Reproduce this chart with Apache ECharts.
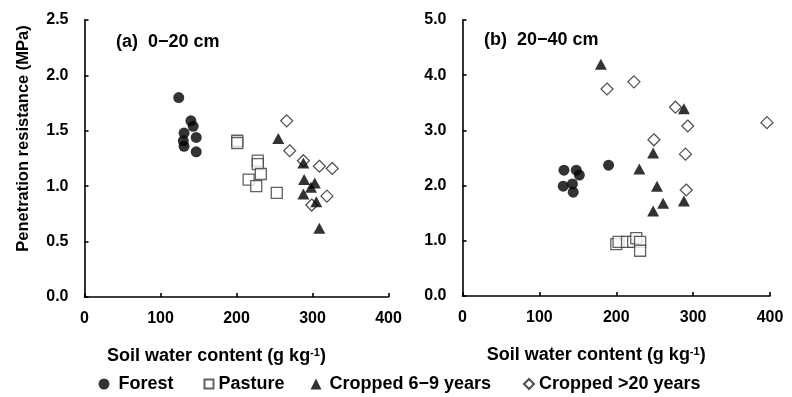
<!DOCTYPE html>
<html><head><meta charset="utf-8">
<script src="https://cdn.jsdelivr.net/npm/echarts@6/dist/echarts.min.js"></script>
<style>html,body{margin:0;padding:0;background:#fff}#c{width:792px;height:397px}</style>
</head><body><div id="c"></div>
<script>
// Panel (a) 0-20 cm : [soil water content g/kg, penetration resistance MPa]
var forestA = [[124,1.80],[140,1.59],[143,1.54],[131,1.48],[147,1.44],[130,1.41],[131,1.36],[147,1.31]];
var pastureA = [[201,1.41],[201,1.39],[228,1.23],[228,1.20],[232,1.11],[216,1.06],[226,1.00],[253,0.94]];
var crop69A = [[255,1.43],[288,1.21],[289,1.06],[303,1.03],[298,0.99],[288,0.93],[305,0.86],[309,0.62]];
var crop20A = [[266,1.59],[270,1.32],[288,1.23],[309,1.18],[326,1.16],[319,0.91],[299,0.83]];
// Panel (b) 20-40 cm
var forestB = [[132,2.28],[148,2.28],[152,2.19],[131,1.99],[143,2.03],[144,1.88],[190,2.37]];
var pastureB = [[200,0.94],[203,0.98],[214,0.98],[222,0.98],[226,1.05],[231,0.98],[231,0.82]];
var crop69B = [[180,4.20],[288,3.39],[248,2.59],[230,2.30],[253,1.99],[261,1.68],[288,1.72],[248,1.54]];
var crop20B = [[223,3.88],[188,3.75],[277,3.42],[293,3.08],[249,2.83],[290,2.57],[291,1.92],[396,3.14]];

var seriesNames = ['Forest','Pasture','Cropped 6\u22129 years','Cropped >20 years'];
var panelTitles = ['(a)  0\u221220 cm','(b)  20\u221240 cm'];
var xTitle = 'Soil water content (g kg{sup|-1})';
var yTitle = 'Penetration resistance (MPa)';

var FONT = '"Liberation Sans", Arial, sans-serif';
var chart = echarts.init(document.getElementById('c'), null, {renderer:'canvas'});

function xAxisCfg(gi){
  return {
    gridIndex: gi, type:'value', min:0, max:400, interval:100,
    axisLine:{show:true, onZero:false, lineStyle:{color:'#000', width:1.6}},
    axisTick:{show:true, inside:true, length:4, lineStyle:{color:'#000', width:1.6}},
    splitLine:{show:false},
    axisLabel:{color:'#000', fontFamily:FONT, fontWeight:'bold', fontSize:16, margin:14},
    name: xTitle, nameLocation:'middle', nameGap:50,
    nameTextStyle:{color:'#000', fontFamily:FONT, fontWeight:'bold', fontSize:18, padding:[0,40,0,0],
      rich:{sup:{fontSize:11, fontWeight:'bold', fontFamily:FONT, color:'#000', verticalAlign:'top', lineHeight:11}}}
  };
}
function yAxisCfg(gi, max, interval, withName){
  var c = {
    gridIndex: gi, type:'value', min:0, max:max, interval:interval,
    axisLine:{show:true, lineStyle:{color:'#000', width:1.6}},
    axisTick:{show:true, inside:true, length:4, lineStyle:{color:'#000', width:1.6}},
    splitLine:{show:false},
    axisLabel:{color:'#000', fontFamily:FONT, fontWeight:'bold', fontSize:16, margin:16,
      formatter:function(v){return v.toFixed(1);}}
  };
  if (withName){
    c.name = yTitle; c.nameLocation='middle'; c.nameGap=53;
    c.nameTextStyle = {color:'#000', fontFamily:FONT, fontWeight:'bold', fontSize:16.5, padding:[0,0,0,40]};
  }
  return c;
}
function mkSeries(name, data, gi, kind){
  var s = {name:name, type:'scatter', data:data, xAxisIndex:gi, yAxisIndex:gi, animation:false};
  if (kind===0){ s.symbol='circle'; s.symbolSize=11; s.itemStyle={color:'#000'}; s.z=3; }
  if (kind===1){ s.symbol='rect'; s.symbolSize=11; s.itemStyle={color:'#fff', borderColor:'#3a3a3a', borderWidth:1.3}; s.z=2; }
  if (kind===2){ s.symbol='triangle'; s.symbolSize=[12,11]; s.itemStyle={color:'#000'}; s.z=5; }
  if (kind===3){ s.symbol='diamond'; s.symbolSize=[12,12]; s.itemStyle={color:'#fff', borderColor:'#222', borderWidth:1.2}; s.z=4; }
  return s;
}
var legendLefts = [93.5, 198.5, 305.5, 518];
var legendSizes = [11, 9, 11, 10];
var legendPads = [4, 0, 3, 0];
var legends = seriesNames.map(function(n,i){
  return {data:[n], left:legendLefts[i], top:370, itemWidth:legendSizes[i], itemHeight:legendSizes[i],
    textStyle:{color:'#000', fontFamily:FONT, fontWeight:'bold', fontSize:18, padding:[0,0,0,legendPads[i]]}};
});

var option = {
  backgroundColor:'#fff',
  animation:false,
  title:[
    {text:panelTitles[0], left:116, top:33, textStyle:{color:'#000', fontFamily:FONT, fontWeight:'bold', fontSize:18}, padding:0},
    {text:panelTitles[1], left:484, top:31, textStyle:{color:'#000', fontFamily:FONT, fontWeight:'bold', fontSize:18}, padding:0}
  ],
  legend: legends,
  grid:[
    {left:84.5, top:20, width:304, height:277},
    {left:462.5, top:20, width:307.5, height:276}
  ],
  xAxis:[xAxisCfg(0), xAxisCfg(1)],
  yAxis:[yAxisCfg(0,2.5,0.5,true), yAxisCfg(1,5,1,false)],
  series:[
    mkSeries(seriesNames[0], forestA, 0, 0),
    mkSeries(seriesNames[1], pastureA, 0, 1),
    mkSeries(seriesNames[2], crop69A, 0, 2),
    mkSeries(seriesNames[3], crop20A, 0, 3),
    mkSeries(seriesNames[0], forestB, 1, 0),
    mkSeries(seriesNames[1], pastureB, 1, 1),
    mkSeries(seriesNames[2], crop69B, 1, 2),
    mkSeries(seriesNames[3], crop20B, 1, 3)
  ]
};
chart.setOption(option);
</script></body></html>
